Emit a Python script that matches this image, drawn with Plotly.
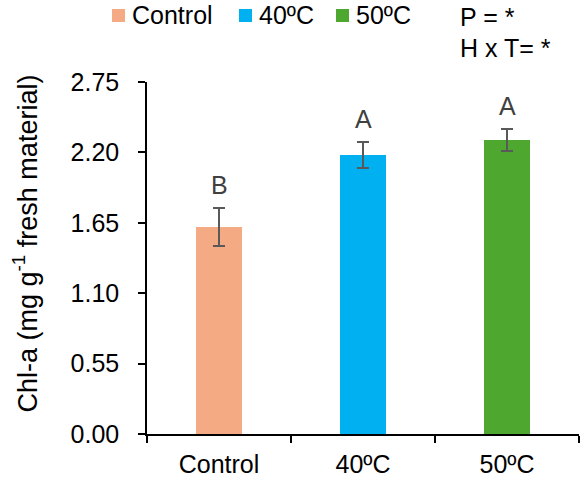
import plotly.graph_objects as go

categories = ["Control", "40ºC", "50ºC"]
means = [1.617, 2.180, 2.297]
errors = [0.148, 0.104, 0.089]
letters = ["B", "A", "A"]
colors = ["#F4AB84", "#00B0F0", "#4EA72E"]
y_ticks = [0.00, 0.55, 1.10, 1.65, 2.20, 2.75]
stats_lines = ["P = *", "H x T= *"]
y_title = "Chl-a (mg g<sup>-1</sup> fresh material)"

FONT = "Liberation Sans, Arial, sans-serif"
FS = 25

# plot area in pixels
L, R, T, B = 147, 5, 82, 50
W, H = 584, 484
PW, PH = W - L - R, H - T - B

def px(x):
    return (x - L) / PW

def py(y):
    return (H - B - y) / PH

fig = go.Figure()
for i, cat in enumerate(categories):
    fig.add_trace(go.Bar(
        x=[cat], y=[means[i]], name=cat, showlegend=False,
        marker=dict(color=colors[i], line=dict(width=0)),
        width=0.32,
        error_y=dict(type="data", array=[errors[i]], visible=True,
                     color="#595959", thickness=2, width=6),
    ))
    fig.add_annotation(x=cat, y=means[i] + errors[i], text=letters[i],
                       showarrow=False, yanchor="bottom", yshift=7,
                       font=dict(family=FONT, size=FS, color="#404040"))

# legend (Excel style: small square then label)
legend_sq_x = [112, 239, 336]
for i, cat in enumerate(categories):
    x0 = legend_sq_x[i]
    fig.add_shape(type="rect", xref="paper", yref="paper",
                  x0=px(x0), x1=px(x0 + 13), y0=py(22), y1=py(9),
                  fillcolor=colors[i], line=dict(width=0))
    fig.add_annotation(xref="paper", yref="paper", x=px(x0 + 18), y=py(15.5),
                       xanchor="left", yanchor="middle", showarrow=False,
                       text=cat, font=dict(family=FONT, size=FS, color="black"))

for txt, yc in zip(stats_lines, [17, 48]):
    fig.add_annotation(xref="paper", yref="paper", x=px(458), y=py(yc),
                       xanchor="left", yanchor="middle", showarrow=False,
                       text=txt, font=dict(family=FONT, size=FS, color="black"))

fig.add_annotation(xref="paper", yref="paper", x=px(25), y=py(243.5),
                   xanchor="center", yanchor="middle", showarrow=False, textangle=-90,
                   text=y_title, font=dict(family=FONT, size=27, color="black"))

fig.update_layout(
    width=W, height=H,
    margin=dict(l=L, r=R, t=T, b=B, autoexpand=False),
    paper_bgcolor="white", plot_bgcolor="white",
    font=dict(family=FONT, size=FS, color="black"),
    showlegend=False,
    bargap=0,
    xaxis=dict(type="category", range=[-0.5, 2.5], showline=True, linecolor="black",
               linewidth=1.5, ticks="outside", tickson="boundaries", ticklen=7,
               tickcolor="black", tickwidth=1.5, showgrid=False, zeroline=False,
               ticklabelstandoff=7,
               tickfont=dict(family=FONT, size=FS, color="black")),
    yaxis=dict(range=[0, 2.75], tickvals=y_ticks, tickformat=".2f", showline=True,
               linecolor="black", linewidth=1.5, ticks="outside", ticklen=7,
               tickcolor="black", tickwidth=1.5, showgrid=False, zeroline=False,
               ticklabelstandoff=14,
               tickfont=dict(family=FONT, size=FS, color="black")),
)

fig.write_html("out.html", config={"displayModeBar": False},
               post_script="document.body.style.margin='0';")
